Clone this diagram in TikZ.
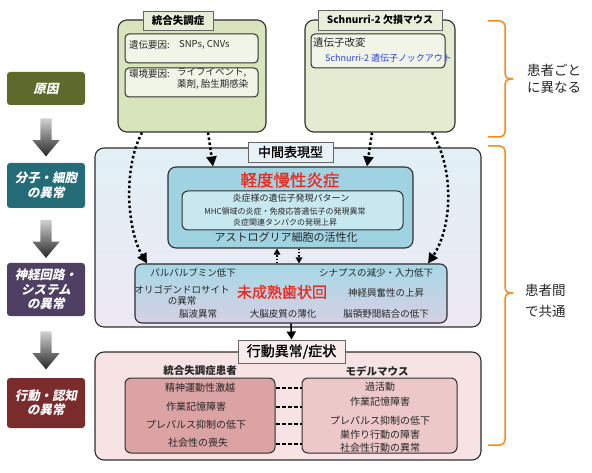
\documentclass[tikz,border=0pt]{standalone}
\usepackage{fontspec}
\setmainfont{Noto Sans CJK JP}
\newfontfamily\jpslant{Noto Sans CJK JP}[FakeSlant=0.2]
\newfontfamily\jpmed{Noto Sans CJK JP}[FakeBold=1.2]
\usetikzlibrary{arrows.meta, shapes.arrows, calc}
\newcommand{\jpsize}[2]{\fontsize{#1}{#2}\selectfont}

\definecolor{causeclr}{HTML}{5E6A2C}
\definecolor{molecclr}{HTML}{246C78}
\definecolor{circclr}{HTML}{4E3F63}
\definecolor{behavclr}{HTML}{7A2C2C}
\definecolor{szclr}{HTML}{D8E4BC}
\definecolor{sztagclr}{HTML}{E6EDD6}
\definecolor{msclr}{HTML}{E3EBD0}
\definecolor{mstagclr}{HTML}{E9EFDB}
\definecolor{leafclr}{HTML}{F1F5E8}
\definecolor{midtopclr}{HTML}{E2F0F6}
\definecolor{midbotclr}{HTML}{EDE8F4}
\definecolor{midtagclr}{HTML}{E9F2F6}
\definecolor{inflclr}{HTML}{9FD3E2}
\definecolor{inflinclr}{HTML}{C8E8F0}
\definecolor{neurtopclr}{HTML}{A6D8E6}
\definecolor{neurbotclr}{HTML}{D6D0E4}
\definecolor{behclr}{HTML}{F7E3E3}
\definecolor{behtagclr}{HTML}{F9ECEC}
\definecolor{patclr}{HTML}{DCA3A4}
\definecolor{mouclr}{HTML}{EDC8C8}
\definecolor{redclr}{HTML}{EE2A1F}
\definecolor{blueclr}{HTML}{2B3FE0}
\definecolor{braceclr}{HTML}{F58A1F}
\definecolor{lineclr}{HTML}{2E2E2E}

\tikzset{
  stage/.style={rounded corners=3pt, minimum width=78pt, inner sep=0pt, align=center,
    text=white, font=\jpslant\bfseries\jpsize{12.5pt}{14.5pt}},
  flow/.style={single arrow, shape border rotate=270, draw=none, inner sep=5.5pt,
    minimum height=38pt, minimum width=27pt, single arrow head extend=8pt,
    single arrow tip angle=80, top color=black!18, bottom color=black!85},
  panel/.style={draw=lineclr, line width=1.1pt, rounded corners=9pt, inner sep=0pt},
  leaf/.style={draw=lineclr, line width=1pt, rounded corners=4pt, inner sep=0pt},
  tag/.style={draw=black!60, line width=0.9pt, inner sep=0pt, font=\bfseries\jpsize{10.5pt}{12pt}},
  txt/.style={inner sep=0pt, text=black!85, font=\jpsize{9.5pt}{11.5pt}, align=center},
  dotarrow/.style={line width=2.5pt, dash pattern=on 2.5pt off 2.5pt, -{Triangle[width=10pt,length=10pt]}},
  minidot/.style={line width=1.6pt, dash pattern=on 1.6pt off 1.6pt, -{Triangle[width=6.5pt,length=6pt]}},
  pair/.style={line width=1.2pt, dash pattern=on 4pt off 2pt},
  bracket/.style={draw=braceclr, line width=1.5pt, rounded corners=5pt}
}

\begin{document}
\begin{tikzpicture}[x=1pt, y=-1pt]
  \useasboundingbox (0,0) rectangle (592,473);
  % left column
  \node[stage, fill=causeclr, minimum height=33pt] (cause) at (46,88.5) {原因};
  \node[stage, fill=molecclr, minimum height=45pt] (molec) at (46,185.5) {分子・細胞\\の異常};
  \node[stage, fill=circclr, minimum height=53pt] (circ) at (46,289.5) {神経回路・\\システム\\の異常};
  \node[stage, fill=behavclr, minimum height=50pt] (behav) at (46,403) {行動・認知\\の異常};
  \node[flow] (f1) at ($(cause.south)!.5!(molec.north)$) {};
  \node[flow] (f2) at ($(molec.south)!.5!(circ.north)$) {};
  \node[flow] (f3) at ($(circ.south)!.5!(behav.north)$) {};

  % causes
  \node[panel, fill=szclr, minimum width=148pt, minimum height=112pt] (sz) at (192,76) {};
  \node[tag, fill=sztagclr, minimum width=70pt, minimum height=19pt] (sztag) at (178,20.5) {統合失調症};
  \node[leaf, fill=leafclr, minimum width=133pt, minimum height=29pt] (szgene) at (191.5,48.5) {};
  \node[leaf, fill=leafclr, minimum width=133pt, minimum height=29pt] (szenv) at (191.5,82.5) {};
  \node[txt, anchor=west] (genelab) at (129,45) {遺伝要因:};
  \node[txt, anchor=west] (genetxt) at (179,45) {SNPs, CNVs};
  \node[txt, anchor=west] (envlab) at (129,74) {環境要因:};
  \node[txt, anchor=north west, align=left] (envtxt) at (177,68) {ライフイベント,\\薬剤, 胎生期感染};

  \node[panel, fill=msclr, minimum width=150pt, minimum height=112pt] (ms) at (380,76) {};
  \node[tag, fill=mstagclr, minimum width=124pt, minimum height=20pt, font=\bfseries\jpsize{10pt}{12pt}] (mstag) at (380,20) {Schnurri-2 欠損マウス};
  \node[leaf, fill=leafclr, minimum width=134pt, minimum height=34pt] (msgene) at (378,51) {};
  \node[txt, anchor=west, font=\jpsize{10.5pt}{12pt}] (kolab) at (313,43) {遺伝子改変};
  \node[txt, anchor=west, text=blueclr, font=\jpsize{9pt}{11pt}] (kotxt) at (325,58) {Schnurri-2 遺伝子ノックアウト};

  % intermediate phenotype
  \node[panel, top color=midtopclr, bottom color=midbotclr, minimum width=386pt, minimum height=179pt] (mid) at (288,237.5) {};
  \node[tag, fill=midtagclr, minimum width=85pt, minimum height=20pt, font=\jpmed\jpsize{13pt}{15pt}] (midtag) at (290.5,152) {中間表現型};
  \node[panel, fill=inflclr, rounded corners=8pt, minimum width=245pt, minimum height=81pt] (infl) at (290.5,207.5) {};
  \node[leaf, fill=inflinclr, rounded corners=6pt, minimum width=221pt, minimum height=39pt] (inflin) at (292.5,210.5) {};
  \node[txt, text=redclr, font=\jpmed\jpsize{16.5pt}{18pt}] (infltitle) at (290,180) {軽度慢性炎症};
  \node[txt, font=\jpsize{9pt}{11pt}] (pattern) at (291,198) {炎症様の遺伝子発現パターン};
  \node[txt, font=\jpsize{8pt}{10.5pt}] (mhc) at (285,217) {MHC領域の炎症・免疫応答遺伝子の発現異常\\炎症関連タンパクの発現上昇};
  \node[txt, font=\jpsize{11pt}{13pt}] (astro) at (286,237) {アストログリア細胞の活性化};

  \node[panel, top color=neurtopclr, bottom color=neurbotclr, rounded corners=7pt, minimum width=312pt, minimum height=59pt] (neur) at (291,293.5) {};
  \node[txt] (pv) at (193,273) {パルバルブミン低下};
  \node[txt] (syn) at (376,273) {シナプスの減少・入力低下};
  \node[txt] (oligo) at (182,295.5) {オリゴデンドロサイト\\の異常};
  \node[txt, text=redclr, font=\jpmed\jpsize{15pt}{17pt}] (dg) at (282,292) {未成熟歯状回};
  \node[txt] (excit) at (386,293) {神経興奮性の上昇};
  \node[txt] (eeg) at (198,314) {脳波異常};
  \node[txt] (cortex) at (283,314) {大脳皮質の薄化};
  \node[txt] (connect) at (386,314) {脳領野間結合の低下};

  % behaviour
  \node[panel, fill=behclr, minimum width=386pt, minimum height=108pt] (beh) at (288,406) {};
  \node[tag, fill=behtagclr, minimum width=107pt, minimum height=23pt, font=\jpmed\jpsize{14pt}{16pt}] (behtag) at (291.5,351.5) {行動異常/症状};
  \node[txt, font=\bfseries\jpsize{10.5pt}{12pt}] (pathead) at (200,371) {統合失調症患者};
  \node[txt, font=\bfseries\jpsize{10.5pt}{12pt}] (mouhead) at (377,371) {モデルマウス};
  \node[leaf, fill=patclr, rounded corners=6pt, minimum width=150pt, minimum height=75pt] (pat) at (200,415.5) {};
  \node[leaf, fill=mouclr, rounded corners=6pt, minimum width=155pt, minimum height=75pt] (mou) at (379.5,415.5) {};
  \node[txt, font=\jpsize{10pt}{12pt}] (p1) at (200,388) {精神運動性激越};
  \node[txt, font=\jpsize{10pt}{12pt}] (p2) at (196,407) {作業記憶障害};
  \node[txt, font=\jpsize{10pt}{12pt}] (p3) at (196,425) {プレパルス抑制の低下};
  \node[txt, font=\jpsize{10pt}{12pt}] (p4) at (198,443) {社会性の喪失};
  \node[txt, font=\jpsize{10pt}{12pt}] (m1) at (380,387) {過活動};
  \node[txt, font=\jpsize{10pt}{12pt}] (m2) at (380,402) {作業記憶障害};
  \node[txt, font=\jpsize{10pt}{12pt}] (m3) at (380,421) {プレパルス抑制の低下};
  \node[txt, font=\jpsize{10pt}{13.5pt}] (m4) at (380,441) {巣作り行動の障害\\社会性行動の異常};
  \draw[pair] ([yshift=27.5pt]pat.east) -- ([yshift=27.5pt]mou.west);
  \draw[pair] ([yshift=8.5pt]pat.east) -- ([yshift=8.5pt]mou.west);
  \draw[pair] ([yshift=-8.5pt]pat.east) -- ([yshift=-8.5pt]mou.west);
  \draw[pair] ([yshift=-28.5pt]pat.east) -- ([yshift=-28.5pt]mou.west);

  % arrows
  \draw[dotarrow] ([xshift=-50pt]sz.south) .. controls (122,170) and (128,232) .. ([xshift=-144pt]neur.north);
  \draw[dotarrow] ([xshift=16pt]sz.south) -- ([xshift=-77.5pt]infl.north);
  \draw[dotarrow] ([xshift=-8pt]ms.south) -- ([xshift=76.5pt]infl.north);
  \draw[dotarrow] ([xshift=52pt]ms.south) .. controls (455,170) and (452,228) .. ([xshift=137pt]neur.north);
  \draw[minidot] ([xshift=-14pt]neur.north) -- ([xshift=-13.5pt]infl.south);
  \draw[minidot] ([xshift=8.5pt]infl.south) -- ([xshift=8pt]neur.north);
  \draw[line width=1.6pt, -{Triangle[width=9pt,length=8pt]}] (neur.south) -- (behtag.north);

  % braces
  \draw[bracket] (488,21) -- (505,21) -- (505,79) -- (513,79);
  \draw[bracket] (513,79) -- (505,79) -- (505,137) -- (488,137);
  \draw[bracket] (488,146) -- (505,146) -- (505,293) -- (513,293);
  \draw[bracket] (513,293) -- (505,293) -- (505,445) -- (488,445);
  \node[txt, anchor=west, align=left, font=\jpsize{13.5pt}{17.5pt}] (differ) at (527,79) {患者ごと\\に異なる};
  \node[txt, anchor=west, align=left, font=\jpsize{13.5pt}{21pt}] (common) at (525,301) {患者間\\で共通};
\end{tikzpicture}
\end{document}
